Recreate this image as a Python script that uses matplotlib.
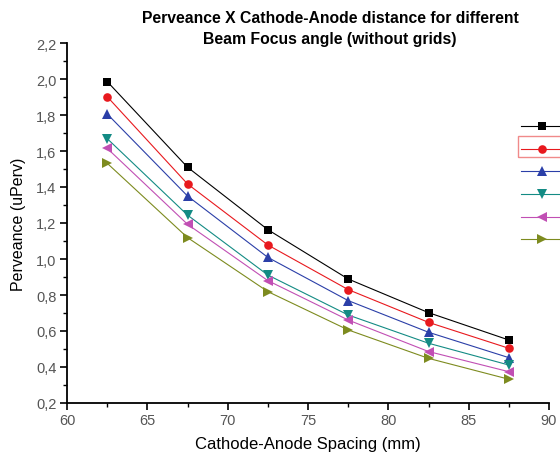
import matplotlib
matplotlib.use("Agg")
import matplotlib.pyplot as plt
from matplotlib.ticker import MultipleLocator, FuncFormatter
from matplotlib.patches import Rectangle

# Data
spacing = [62.5, 67.5, 72.5, 77.5, 82.5, 87.5]
s1 = [1.986, 1.510, 1.163, 0.889, 0.702, 0.550]
s2 = [1.902, 1.417, 1.078, 0.830, 0.648, 0.504]
s3 = [1.806, 1.350, 1.009, 0.769, 0.593, 0.452]
s4 = [1.669, 1.244, 0.911, 0.689, 0.532, 0.411]
s5 = [1.615, 1.193, 0.880, 0.661, 0.486, 0.374]
s6 = [1.532, 1.119, 0.819, 0.606, 0.448, 0.332]
series = [s1, s2, s3, s4, s5, s6]

colors = ["#000000", "#e8191e", "#2b3fa8", "#138b84", "#c14fb4", "#7d8b1f"]
markers = ["s", "o", "^", "v", "<", ">"]
msizes = [5.8, 6.2, 7.5, 7.5, 7.5, 7.5]

plt.rcParams["font.family"] = ["Liberation Sans", "DejaVu Sans"]

fig = plt.figure(figsize=(5.6, 4.56), dpi=100)
ax = fig.add_axes([67 / 560, 1 - 404 / 456, (549 - 67) / 560, (404 - 44) / 456])

handles = []
for ys, c, m, ms in zip(series, colors, markers, msizes):
    h, = ax.plot(spacing, ys, color=c, lw=0.8, marker=m, markersize=ms,
                 markeredgewidth=0)
    handles.append(h)

ax.set_xlim(60, 90)
ax.set_ylim(0.2, 2.2)
ax.xaxis.set_major_locator(MultipleLocator(5))
ax.xaxis.set_minor_locator(MultipleLocator(2.5))
ax.yaxis.set_major_locator(MultipleLocator(0.2))
ax.yaxis.set_minor_locator(MultipleLocator(0.1))
ax.yaxis.set_major_formatter(FuncFormatter(lambda v, p: f"{v:.1f}".replace(".", ",")))
ax.xaxis.set_major_formatter(FuncFormatter(lambda v, p: f"{v:.0f}"))

for side in ["top", "right"]:
    ax.spines[side].set_visible(False)
for side in ["left", "bottom"]:
    ax.spines[side].set_linewidth(1.3)
ax.tick_params(which="major", direction="out", length=5, width=1.2,
               labelsize=10.5, labelcolor="#555555", pad=2.5)
ax.tick_params(which="minor", direction="out", length=3, width=1.0)

ax.set_xlabel("Cathode-Anode Spacing (mm)", fontsize=12, labelpad=6)
ax.set_ylabel("Perveance (uPerv)", fontsize=11.5, labelpad=7)

fig.text(330 / 560, 1 - 29 / 456,
         "Perveance X Cathode-Anode distance for different\nBeam Focus angle (without grids)",
         ha="center", va="center", fontsize=11.3, fontweight="bold",
         linespacing=1.55)

# legend, mostly cut off at the right edge as in the original
fig.legend(handles, [""] * 6, loc="upper left",
           bbox_to_anchor=(514 / 560, 1 - 114 / 456), frameon=False,
           handlelength=3.0, labelspacing=0.62, fontsize=10, borderpad=0)
fig.patches.append(Rectangle((518 / 560, 1 - 158 / 456), 50 / 560, 21 / 456,
                             transform=fig.transFigure, fill=False,
                             edgecolor="#f08a8a", lw=1.0))

fig.savefig("out.png", dpi=100)
